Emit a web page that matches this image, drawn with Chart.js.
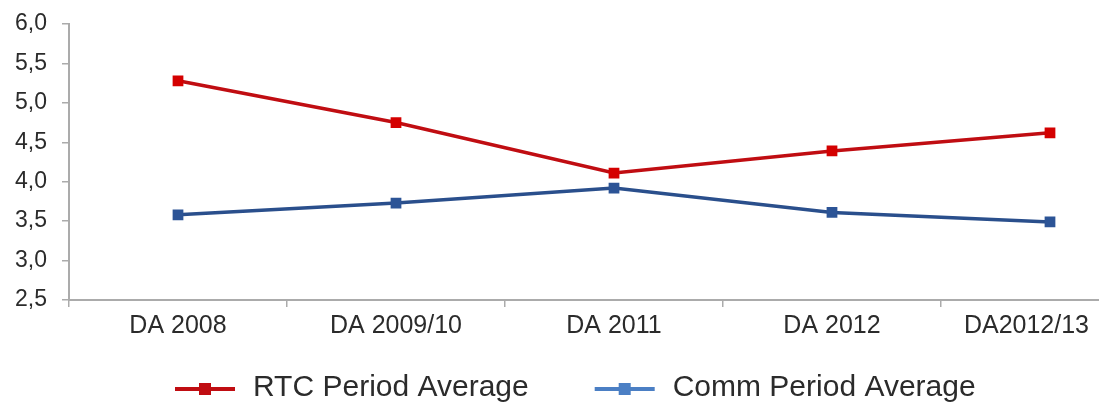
<!DOCTYPE html>
<html>
<head>
<meta charset="utf-8">
<script src="https://cdn.jsdelivr.net/npm/chart.js@4/dist/chart.umd.min.js"></script>
<style>
  html, body { margin: 0; padding: 0; background: #fff; overflow: hidden; }
  #wrap { width: 1170px; height: 407px; }
</style>
</head>
<body>
<div id="wrap"><canvas id="c" width="1170" height="407"></canvas></div>
<script>
// Survey rounds and period averages
const categories = ['DA 2008', 'DA 2009/10', 'DA 2011', 'DA 2012', 'DA2012/13'];
const rtcAverage = [5.28, 4.75, 4.11, 4.39, 4.62];
const commAverage = [3.58, 3.73, 3.92, 3.61, 3.49];
const seriesNames = ['RTC Period Average', 'Comm Period Average'];
const yTicks = [2.5, 3.0, 3.5, 4.0, 4.5, 5.0, 5.5, 6.0];

const FONT = "'Liberation Sans', Arial, sans-serif";
const AXIS_GREY = '#ababab';
const VISIBLE_RIGHT = 1089; // category labels are kept left of this edge

// Keep category labels inside the visible page width
const keepLabelsVisible = {
  id: 'keepLabelsVisible',
  afterUpdate(chart) {
    const scale = chart.scales.x;
    const items = scale.getLabelItems();
    const ctx = chart.ctx;
    ctx.save();
    items.forEach(item => {
      ctx.font = item.font.string;
      const w = ctx.measureText(item.label).width;
      const x = item.options.translation[0];
      if (x + w / 2 > VISIBLE_RIGHT) {
        item.options.translation[0] = VISIBLE_RIGHT - w / 2;
      }
    });
    ctx.restore();
  }
};

// Legend row: line segment with a square marker, then the series name
const lineLegend = {
  id: 'lineLegend',
  afterDraw(chart) {
    const ctx = chart.ctx;
    const y = 389;
    let x = 175;
    ctx.save();
    ctx.font = '30px ' + FONT;
    ctx.textBaseline = 'middle';
    chart.data.datasets.forEach(ds => {
      const col = ds.legendColor || ds.borderColor;
      ctx.strokeStyle = col;
      ctx.lineWidth = 4;
      ctx.beginPath();
      ctx.moveTo(x, y);
      ctx.lineTo(x + 60, y);
      ctx.stroke();
      ctx.fillStyle = col;
      ctx.fillRect(x + 30 - 6, y - 6, 12, 12);
      ctx.fillStyle = '#2b2b2b';
      const tx = x + 78;
      ctx.fillText(ds.label, tx, y - 1);
      x = tx + ctx.measureText(ds.label).width + 66;
    });
    ctx.restore();
  }
};

new Chart(document.getElementById('c'), {
  type: 'line',
  data: {
    labels: categories,
    datasets: [
      {
        label: seriesNames[0],
        data: rtcAverage,
        borderColor: '#c00d12',
        backgroundColor: '#d40000',
        legendColor: '#c00d12',
        borderWidth: 3.5,
        pointStyle: 'rect',
        pointRadius: 7.6,
        pointBorderWidth: 0,
        pointBackgroundColor: '#d40000',
        tension: 0
      },
      {
        label: seriesNames[1],
        data: commAverage,
        borderColor: '#2a4f8c',
        backgroundColor: '#2c5496',
        legendColor: '#4b7fc4',
        borderWidth: 3.5,
        pointStyle: 'rect',
        pointRadius: 7.6,
        pointBorderWidth: 0,
        pointBackgroundColor: '#2c5496',
        tension: 0
      }
    ]
  },
  options: {
    responsive: false,
    animation: false,
    layout: { padding: { top: 24, left: 0, right: 11, bottom: 67 } },
    plugins: {
      legend: { display: false },
      tooltip: { enabled: false }
    },
    scales: {
      x: {
        type: 'category',
        offset: true,
        grid: {
          offset: true,
          drawOnChartArea: false,
          drawTicks: true,
          tickLength: 7,
          color: AXIS_GREY,
          lineWidth: 1.5
        },
        border: { display: true, color: AXIS_GREY, width: 2 },
        ticks: {
          color: '#2b2b2b',
          font: { family: FONT, size: 25 },
          padding: 4,
          maxRotation: 0,
          autoSkip: false
        },
        afterFit(scale) { scale.height = 40; }
      },
      y: {
        min: 2.5,
        max: 6.0,
        afterBuildTicks(scale) { scale.ticks = yTicks.map(v => ({ value: v })); },
        grid: {
          drawOnChartArea: false,
          drawTicks: true,
          tickLength: 7,
          color: AXIS_GREY,
          lineWidth: 1.5
        },
        border: { display: true, color: AXIS_GREY, width: 2 },
        ticks: {
          color: '#2b2b2b',
          font: { family: FONT, size: 23 },
          padding: 15,
          callback: v => Number(v).toFixed(1).replace('.', ',')
        },
        afterFit(scale) {
          scale.width = 69;
          scale.paddingTop = 0;
          scale.paddingBottom = 0;
        }
      }
    }
  },
  plugins: [keepLabelsVisible, lineLegend]
});
</script>
</body>
</html>
